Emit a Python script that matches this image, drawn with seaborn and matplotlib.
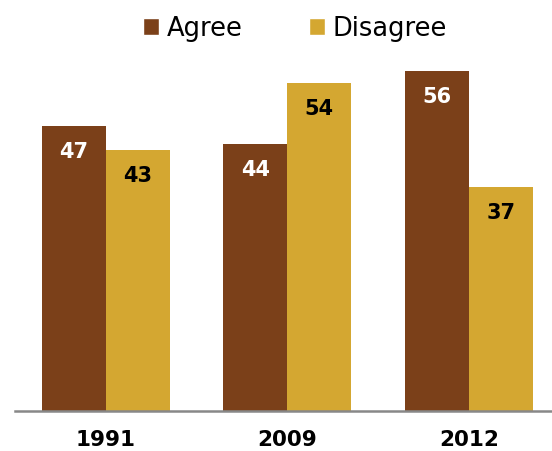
import matplotlib
matplotlib.use("Agg")
import matplotlib.pyplot as plt
import seaborn as sns
import pandas as pd
from matplotlib.patches import Patch

years = ["1991", "2009", "2012"]
agree = [47, 44, 56]
disagree = [43, 54, 37]
series = ["Agree", "Disagree"]
colors = ["#7B4019", "#D4A731"]
label_colors = ["white", "black"]

df = pd.DataFrame({
    "year": years * 2,
    "value": agree + disagree,
    "series": ["Agree"] * len(years) + ["Disagree"] * len(years),
})

sns.set_style("white")
plt.rcParams["font.family"] = ["DejaVu Sans"]
plt.rcParams["text.color"] = "black"
plt.rcParams["xtick.color"] = "black"

fig = plt.figure(figsize=(5.52, 4.52), dpi=100)
ax = fig.add_axes([15 / 552, 40 / 452, 537 / 552, 364 / 452])

sns.barplot(data=df, x="year", y="value", hue="series", palette=colors,
            width=0.705, saturation=1, ax=ax, legend=False, linewidth=0)

for cont, lc in zip(ax.containers, label_colors):
    for bar in cont:
        h = bar.get_height()
        ax.annotate(f"{h:.0f}", (bar.get_x() + bar.get_width() / 2, h),
                    xytext=(0, -18), textcoords="offset points",
                    ha="center", va="center", color=lc,
                    fontsize=15, fontweight="bold")

ax.set_xlim(-0.5, 2.457)
ax.set_ylim(0, 60)
ax.set_xlabel("")
ax.set_ylabel("")
ax.set_yticks([])
for s in ["left", "top", "right"]:
    ax.spines[s].set_visible(False)
ax.spines["bottom"].set_color("#888888")
ax.spines["bottom"].set_linewidth(1.8)
ax.tick_params(axis="x", length=0, pad=13, colors="black")
for t in ax.get_xticklabels():
    t.set_fontweight("bold")
    t.set_fontsize(15.5)
    t.set_color("black")

handles = [Patch(facecolor=c, label=s) for c, s in zip(colors, series)]
leg = fig.legend(handles=handles, loc="upper center", bbox_to_anchor=(295 / 552, 1.015),
                 ncol=2, frameon=False, fontsize=18.5, handlelength=0.62, handleheight=0.62,
                 handletextpad=0.3, columnspacing=2.6)
for t in leg.get_texts():
    t.set_color("black")

fig.savefig("out.png", dpi=100)
